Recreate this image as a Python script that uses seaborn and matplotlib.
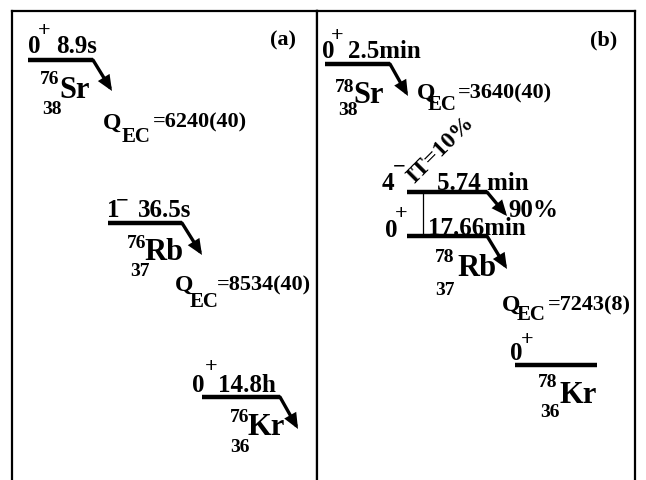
import numpy as np
import pandas as pd
import matplotlib
matplotlib.use("Agg")
import matplotlib.pyplot as plt
import seaborn as sns

# ---------------- data ----------------
panel_tags = ["(a)", "(b)"]

a_mass = [76, 76, 76]
a_Z = [38, 37, 36]
a_symbol = ["Sr", "Rb", "Kr"]
a_spin = ["0", "1", "0"]
a_parity = ["+", "\u2212", "+"]
a_halflife = ["8.9s", "36.5s", "14.8h"]
a_qec = ["6240(40)", "8534(40)"]

b_mass = [78, 78, 78]
b_Z = [38, 37, 36]
b_symbol = ["Sr", "Rb", "Kr"]
b_spin = ["0", "4", "0", "0"]
b_parity = ["+", "\u2212", "+", "+"]
b_halflife = ["2.5min", "5.74 min", "17.66min", ""]
b_qec = ["3640(40)", "7243(8)"]
b_branch = ["IT=10%", "90%"]

# ---------------- layout (figure pixels) ----------------
W, H = 646, 481
a_levels = [(28, 93, 61), (108, 182, 224), (202, 280, 398)]
b_levels = [(325, 390, 65), (407, 487, 193), (407, 487, 237), (515, 597, 366)]
a_tips = [(112, 92), (202, 256), (298, 430)]
b_tips = [(408, 97), (507, 217), (507, 270), None]

a_spin_pos = [(28, 53), (107, 217), (192, 392)]
a_par_pos = [(44, 31), (122, 201), (211, 367)]
a_hl_pos = [(56, 53), (138, 217), (218, 392)]
b_spin_pos = [(322, 58), (382, 190), (385, 237), (510, 360)]
b_par_pos = [(337, 36), (399, 167), (401, 214), (527, 340)]
b_hl_pos = [(348, 58), (437, 190), (428, 235), None]

a_nuc_pos = [((40, 84), (59, 98), (42, 114)),
             ((127, 248), (144, 260), (130, 276)),
             ((230, 422), (248, 435), (230, 452))]
b_nuc_pos = [((335, 92), (353, 103), (338, 115)),
             ((435, 262), (457, 276), (435, 295)),
             ((538, 387), (560, 403), (540, 417))]

a_q_pos = [((103, 129), (122, 142), (153, 127)),
           ((175, 291), (190, 307), (217, 290))]
b_q_pos = [((417, 99), (428, 110), (458, 98)),
           ((502, 311), (517, 320), (548, 310))]

tag_pos = [(270, 45), (590, 45)]
it_pos = (414, 184)
br90_pos = (508, 217)
vline = (423, 193, 237)

# ---------------- style ----------------
sns.set_theme(style="white")
plt.rcParams["font.family"] = ["Liberation Serif", "DejaVu Serif"]
plt.rcParams["font.weight"] = "bold"

fig = plt.figure(figsize=(W / 100, H / 100), dpi=100)
x_div, x_right, y_top = 317, 635, 12
ax_a = fig.add_axes([12 / W, 0, (x_div - 12) / W, (H - y_top) / H])
ax_b = fig.add_axes([x_div / W, 0, (x_right - x_div) / W, (H - y_top) / H])
for ax in (ax_a, ax_b):
    ax.set_xticks([])
    ax.set_yticks([])
    ax.set_facecolor("white")
    for side in ("top", "left", "right"):
        ax.spines[side].set_visible(True)
        ax.spines[side].set_color("black")
        ax.spines[side].set_linewidth(1.6)
    ax.spines["bottom"].set_visible(False)


def put(ax, xy, s, size, ha="left", va="baseline", **kw):
    ax.text(xy[0], xy[1], s, fontsize=size, fontweight="bold", ha=ha, va=va,
            color="black", clip_on=False, **kw)


def draw_levels(ax, levels, tips):
    rows = []
    for i, (x0, x1, y) in enumerate(levels):
        rows.append({"x": x0, "y": y, "lvl": i})
        rows.append({"x": x1, "y": y, "lvl": i})
    df = pd.DataFrame(rows)
    sns.lineplot(data=df, x="x", y="y", units="lvl", estimator=None,
                 color="black", linewidth=3.2, ax=ax, legend=False,
                 sort=False)
    for line in ax.lines:
        line.set_clip_on(False)
        line.set_solid_capstyle("butt")
    for (x0, x1, y), tip in zip(levels, tips):
        if tip is None:
            continue
        ax.annotate("", xy=tip, xytext=(x1, y),
                    arrowprops=dict(arrowstyle="-|>,head_length=0.6,head_width=0.26",
                                    lw=2.4, color="black", shrinkA=0, shrinkB=0,
                                    mutation_scale=12, joinstyle="miter"),
                    annotation_clip=False)
    ax.set_xlabel("")
    ax.set_ylabel("")


draw_levels(ax_a, a_levels, a_tips)
draw_levels(ax_b, b_levels, b_tips)
ax_a.set_xlim(12, x_div)
ax_b.set_xlim(x_div, x_right)
for ax in (ax_a, ax_b):
    ax.set_ylim(H, y_top)

# spins, parities, half-lives
for ax, spins, pars, hls, sp, pp, hp in [
        (ax_a, a_spin, a_parity, a_halflife, a_spin_pos, a_par_pos, a_hl_pos),
        (ax_b, b_spin, b_parity, b_halflife, b_spin_pos, b_par_pos, b_hl_pos)]:
    for s, p, h, s_xy, p_xy, h_xy in zip(spins, pars, hls, sp, pp, hp):
        put(ax, s_xy, s, 18)
        put(ax, p_xy, p, 16, ha="center", va="center")
        if h_xy is not None and h:
            put(ax, h_xy, h, 18)

# nuclide labels
for ax, masses, zs, syms, npos in [(ax_a, a_mass, a_Z, a_symbol, a_nuc_pos),
                                   (ax_b, b_mass, b_Z, b_symbol, b_nuc_pos)]:
    for m, z, sym, (mp, sp, zp) in zip(masses, zs, syms, npos):
        put(ax, mp, str(m), 14)
        put(ax, sp, sym, 22)
        put(ax, zp, str(z), 14)

# Q values
for ax, qs, qpos in [(ax_a, a_qec, a_q_pos), (ax_b, b_qec, b_q_pos)]:
    for q, (qp, ep, vp) in zip(qs, qpos):
        put(ax, qp, "Q", 17)
        put(ax, ep, "EC", 15)
        put(ax, vp, "=" + q, 16)

# branches and tags
put(ax_b, it_pos, b_branch[0], 17, rotation=45, rotation_mode="anchor")
put(ax_b, br90_pos, b_branch[1], 18)
ax_b.plot([vline[0], vline[0]], [vline[1], vline[2]], color="black",
          linewidth=0.9, clip_on=False)
put(ax_a, tag_pos[0], panel_tags[0], 16)
put(ax_b, tag_pos[1], panel_tags[1], 16)

fig.savefig("out.png", dpi=100, facecolor="white")
